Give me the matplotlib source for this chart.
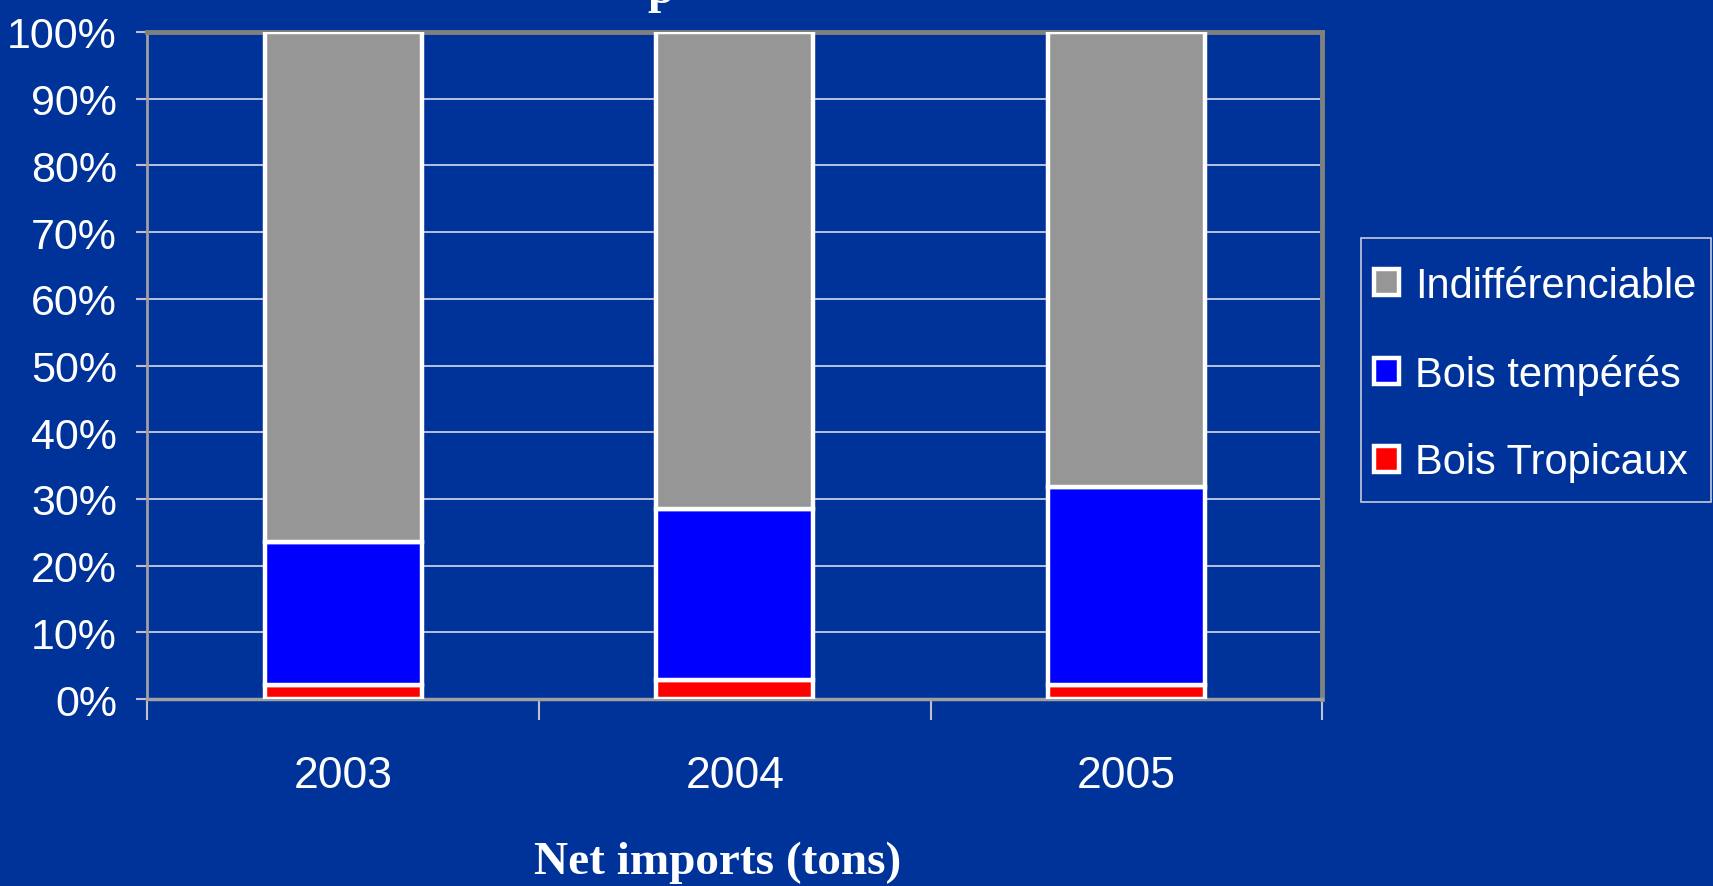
import matplotlib.pyplot as plt
from matplotlib.patches import Rectangle
import numpy as np

# Shares per year (percent)
years = ["2003", "2004", "2005"]
tropicaux = [2.1, 2.8, 2.1]
temperes = [21.5, 25.7, 29.7]
indiff = [76.4, 71.5, 68.2]
series_names = ["Indifférenciable", "Bois tempérés", "Bois Tropicaux"]

BG = "#003399"
NARROW = ["Liberation Sans Narrow", "Liberation Sans", "DejaVu Sans"]
W, H = 1713, 887

fig = plt.figure(figsize=(W / 100, H / 100), dpi=100, facecolor=BG)
ax = fig.add_axes([0.0861, 0.2108, 0.6857, 0.752], facecolor=BG)

x = np.arange(len(years))
w = 0.4
ec = dict(edgecolor="white", linewidth=3.2)
b_trop = ax.bar(x, tropicaux, w, color="#FF0000", **ec, zorder=3)
b_temp = ax.bar(x, temperes, w, bottom=tropicaux, color="#0000FF", **ec, zorder=3)
bottom2 = np.array(tropicaux) + np.array(temperes)
b_ind = ax.bar(x, indiff, w, bottom=bottom2, color="#969696", **ec, zorder=3)

ax.set_xlim(-0.5, 2.5)
ax.set_ylim(0, 100)
ax.set_yticks(np.arange(0, 101, 10))
ax.set_yticklabels([f"{v}%" for v in range(0, 101, 10)], family=NARROW,
                   fontsize=31, color="white")
ax.set_xticks(x)
ax.set_xticklabels(years, family=NARROW, fontsize=32, color="white")
ax.set_xticks([-0.5, 0.5, 1.5, 2.5], minor=True)
ax.tick_params(axis="x", which="major", length=0, pad=40)
ax.tick_params(axis="x", which="minor", length=15, color="#c0c0d0", width=1.5)
ax.tick_params(axis="y", length=8, color="#c0c0d0", width=1.5, pad=14)

ax.yaxis.grid(True, color="#d8d8e8", linewidth=1.2, zorder=1)
ax.set_axisbelow(True)

for s in ["top", "right"]:
    ax.spines[s].set_color("#808080")
    ax.spines[s].set_linewidth(3.5)
ax.spines["left"].set_color("#a0a0a0")
ax.spines["left"].set_linewidth(2)
ax.spines["bottom"].set_color("#a0a0a0")
ax.spines["bottom"].set_linewidth(2.5)

# legend box drawn separately so its size matches the original
fig.patches.append(Rectangle((1361 / W, 1 - 503 / H), 350 / W, 264 / H,
                             transform=fig.transFigure, facecolor=BG,
                             edgecolor="#c8c8d8", linewidth=1.2, zorder=0))
leg = fig.legend([b_ind, b_temp, b_trop], series_names,
                 loc="center left", bbox_to_anchor=(1374 / W, 1 - 375 / H),
                 prop={"family": NARROW, "size": 30}, frameon=False,
                 labelspacing=1.15, handlelength=0.6, handleheight=0.6,
                 handletextpad=0.38, borderpad=0, borderaxespad=0)
for t in leg.get_texts():
    t.set_color("white")

fig.text(718 / W, 1 - 863 / H, "Net imports (tons)", ha="center",
         va="center", family=["Liberation Serif", "DejaVu Serif"],
         fontweight="bold", fontsize=34, color="white")

# clipped remnant of the title above the figure
fig.text(661 / W, 1 - 3 / H, "p", ha="center", va="baseline",
         family=["Liberation Serif", "DejaVu Serif"], fontweight="bold",
         fontsize=34, color="white")

fig.savefig("out.png", dpi=100, facecolor=BG)
